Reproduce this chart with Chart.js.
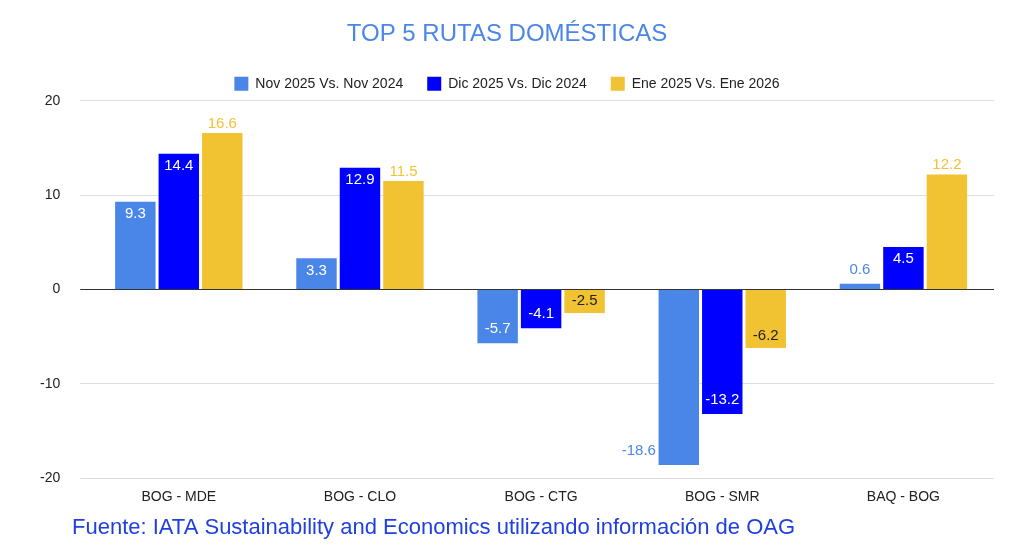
<!DOCTYPE html>
<html>
<head>
<meta charset="utf-8">
<script src="https://cdn.jsdelivr.net/npm/chart.js@4"></script>
<style>
  body { margin: 0; background: #fff; }
</style>
</head>
<body>
<canvas id="chart" width="1024" height="554"></canvas>
<script>
// Datos del gráfico
const routes = ["BOG - MDE", "BOG - CLO", "BOG - CTG", "BOG - SMR", "BAQ - BOG"];
const novVals = [9.3, 3.3, -5.7, -18.6, 0.6];
const dicVals = [14.4, 12.9, -4.1, -13.2, 4.5];
const eneVals = [16.6, 11.5, -2.5, -6.2, 12.2];
const seriesNames = ["Nov 2025 Vs. Nov 2024", "Dic 2025 Vs. Dic 2024", "Ene 2025 Vs. Ene 2026"];
const yTicks = [-20, -10, 0, 10, 20];

const colors = ['#4a86e8', '#0000ff', '#f1c232'];

// Dibuja las etiquetas de valor y la nota de fuente
const labelPlugin = {
    id: 'labels',
    afterDatasetsDraw(chart) {
        const ctx = chart.ctx;
        ctx.save();
        ctx.font = '15px "Liberation Sans", Arial, sans-serif';
        ctx.textAlign = 'center';
        chart.data.datasets.forEach((ds, di) => {
            chart.getDatasetMeta(di).data.forEach((bar, i) => {
                const v = ds.data[i];
                const h = Math.abs(bar.base - bar.y);
                const txt = String(v);
                if (di === 2) {
                    if (v > 0) {
                        ctx.fillStyle = colors[2];
                        ctx.textBaseline = 'bottom';
                        ctx.fillText(txt, bar.x, bar.y - 2);
                    } else {
                        ctx.fillStyle = '#222';
                        ctx.textBaseline = 'middle';
                        ctx.fillText(txt, bar.x, bar.y - 12);
                    }
                } else if (v < -15) {
                    ctx.fillStyle = colors[0];
                    ctx.textBaseline = 'middle';
                    ctx.fillText(txt, bar.x - 40, bar.y - 14);
                } else if (h > 30) {
                    ctx.fillStyle = '#fff';
                    ctx.textBaseline = 'middle';
                    ctx.fillText(txt, bar.x, v > 0 ? bar.y + 12 : bar.y - 14);
                } else {
                    ctx.fillStyle = colors[0];
                    ctx.textBaseline = 'bottom';
                    ctx.fillText(txt, bar.x, bar.y - 6);
                }
            });
        });
        ctx.font = '22px "Liberation Sans", Arial, sans-serif';
        ctx.fillStyle = '#1f3fe0';
        ctx.textAlign = 'left';
        ctx.textBaseline = 'middle';
        ctx.fillText('Fuente: IATA Sustainability and Economics utilizando información de OAG', 72, 528);
        ctx.restore();
    }
};

new Chart(document.getElementById('chart'), {
    type: 'bar',
    data: {
        labels: routes,
        datasets: [novVals, dicVals, eneVals].map((d, i) => ({
            label: seriesNames[i],
            data: d,
            backgroundColor: colors[i],
            categoryPercentage: 0.72,
            barPercentage: 0.93
        }))
    },
    plugins: [labelPlugin],
    options: {
        responsive: false,
        animation: false,
        layout: { padding: { left: 20, right: 30, bottom: 45, top: 0 } },
        plugins: {
            title: {
                display: true,
                text: 'TOP 5 RUTAS DOMÉSTICAS',
                color: '#4a86e8',
                font: { size: 24, family: '"Liberation Sans", Arial', weight: 'normal' },
                padding: { top: 20, bottom: 4 }
            },
            legend: {
                labels: {
                    boxWidth: 14, boxHeight: 14,
                    color: '#222',
                    font: { size: 14, family: '"Liberation Sans", Arial' },
                    padding: 24
                }
            },
            tooltip: { enabled: false }
        },
        scales: {
            x: {
                grid: { display: false },
                border: { display: false },
                ticks: { color: '#222', font: { size: 14, family: '"Liberation Sans", Arial' } }
            },
            y: {
                min: -20, max: 20,
                afterBuildTicks: axis => { axis.ticks = yTicks.map(v => ({ value: v })); },
                grid: { color: ctx => ctx.tick.value === 0 ? '#333' : '#ddd' },
                border: { display: false },
                ticks: { color: '#222', padding: 20, font: { size: 14, family: '"Liberation Sans", Arial' } }
            }
        }
    }
});
</script>
</body>
</html>
